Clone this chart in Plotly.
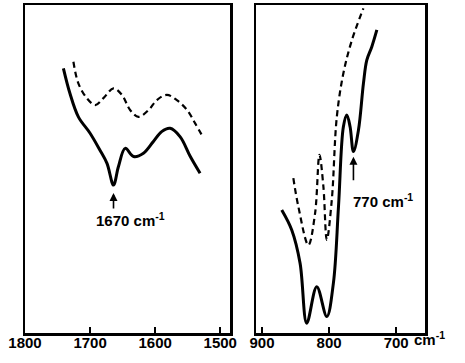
import plotly.graph_objects as go

# Left panel (1800-1500 cm-1)
left_solid_x = [1741, 1731, 1718, 1700, 1685, 1674, 1664, 1656.5, 1646, 1633, 1618, 1603, 1590, 1577, 1561.5, 1546, 1531]
left_solid_y = [80.7, 73.1, 65.9, 60.9, 55.8, 51.7, 45.1, 50.7, 56.3, 53.8, 54.8, 58.3, 61.4, 62.4, 59.8, 53.8, 48.7]
left_dash_x = [1725.6, 1718, 1705, 1692, 1679.5, 1664, 1651, 1638.5, 1625.6, 1610, 1597.4, 1582, 1566.7, 1551, 1538.5, 1525.6]
left_dash_y = [82.7, 76.1, 71.6, 69.5, 71.6, 74.6, 72.6, 68.0, 65.9, 68.0, 71.0, 72.6, 71.0, 68.0, 63.9, 59.4]

# Right panel (900-700 cm-1)
right_solid_x = [870.6, 855.7, 843.3, 833.3, 818.4, 803.4, 793.6, 786, 778.7, 773.6, 768.7, 763.7, 756.2, 748.8, 743.8, 736.3, 728.8]
right_solid_y = [37.5, 31.4, 21.3, 3.0, 14.1, 5.0, 15.2, 38.5, 62.9, 66.5, 62.9, 55.3, 61.9, 76.1, 83.2, 87.3, 92.4]
right_dash_x = [853.3, 845.8, 830.9, 820.9, 814.4, 808.5, 803.4, 796, 788.5, 778.7, 766, 748.8]
right_dash_y = [47.2, 38.5, 26.8, 36.5, 54.3, 44.6, 28.4, 40.5, 65.9, 79.2, 89.3, 99.0]

left_ticks = [1800, 1700, 1600, 1500]
right_ticks = [900, 800, 700]
left_label = "1670 cm<sup>-1</sup>"
right_label = "770 cm<sup>-1</sup>"

fig = go.Figure()
line_solid = dict(color="black", width=3, shape="spline", smoothing=1)
line_dash = dict(color="black", width=2.2, dash="6px,4px", shape="spline", smoothing=1)

fig.add_trace(go.Scatter(x=left_solid_x, y=left_solid_y, mode="lines", line=line_solid, xaxis="x", yaxis="y"))
fig.add_trace(go.Scatter(x=left_dash_x, y=left_dash_y, mode="lines", line=line_dash, xaxis="x", yaxis="y"))
fig.add_trace(go.Scatter(x=right_solid_x, y=right_solid_y, mode="lines", line=line_solid, xaxis="x2", yaxis="y2"))
fig.add_trace(go.Scatter(x=right_dash_x, y=right_dash_y, mode="lines", line=line_dash, xaxis="x2", yaxis="y2"))

font = dict(family="Liberation Sans, Arial, sans-serif", size=15, color="black", weight="bold")
xcommon = dict(showgrid=False, zeroline=False, showline=True, linecolor="black", linewidth=2.5,
               mirror=True, ticks="inside", ticklen=6, tickwidth=1.5, tickcolor="black", tickfont=font,
               automargin=False, ticklabelstandoff=-6)
ycommon = dict(showgrid=False, zeroline=False, showline=True, linecolor="black", linewidth=2.5,
               mirror=True, showticklabels=False, ticks="", range=[0, 100], automargin=False)

fig.update_layout(
    width=465, height=363, margin=dict(l=0, r=0, t=0, b=0, autoexpand=False),
    paper_bgcolor="white", plot_bgcolor="white", showlegend=False,
    xaxis=dict(domain=[25/465, 230/465], range=[1800, 1485], tickvals=left_ticks, anchor="y", **xcommon),
    yaxis=dict(domain=[30/363, 358/363], anchor="x", **ycommon),
    xaxis2=dict(domain=[256/465, 425/465], range=[909, 657], tickvals=right_ticks, anchor="y2", **xcommon),
    yaxis2=dict(domain=[30/363, 358/363], anchor="x2", **ycommon),
    annotations=[
        dict(x=1664, y=42.7, xref="x", yref="y", text="", showarrow=True, arrowhead=2, arrowsize=1,
             arrowwidth=1.6, arrowcolor="black", ax=0, ay=17),
        dict(x=1638.5, y=34.5, xref="x", yref="y", text=left_label, showarrow=False, font=font),
        dict(x=763.7, y=53.7, xref="x2", yref="y2", text="", showarrow=True, arrowhead=2, arrowsize=1,
             arrowwidth=1.6, arrowcolor="black", ax=0, ay=25),
        dict(x=719.4, y=40.5, xref="x2", yref="y2", text=right_label, showarrow=False, font=font),
        dict(x=412/465, y=13/363, xref="paper", yref="paper", text="cm<sup>-1</sup>", showarrow=False,
             font=font, xanchor="left", yanchor="bottom"),
    ],
)

fig.write_html("out.html", config={"displayModeBar": False, "staticPlot": True},
               post_script="document.body.style.margin='0px';document.body.style.overflow='hidden';")
